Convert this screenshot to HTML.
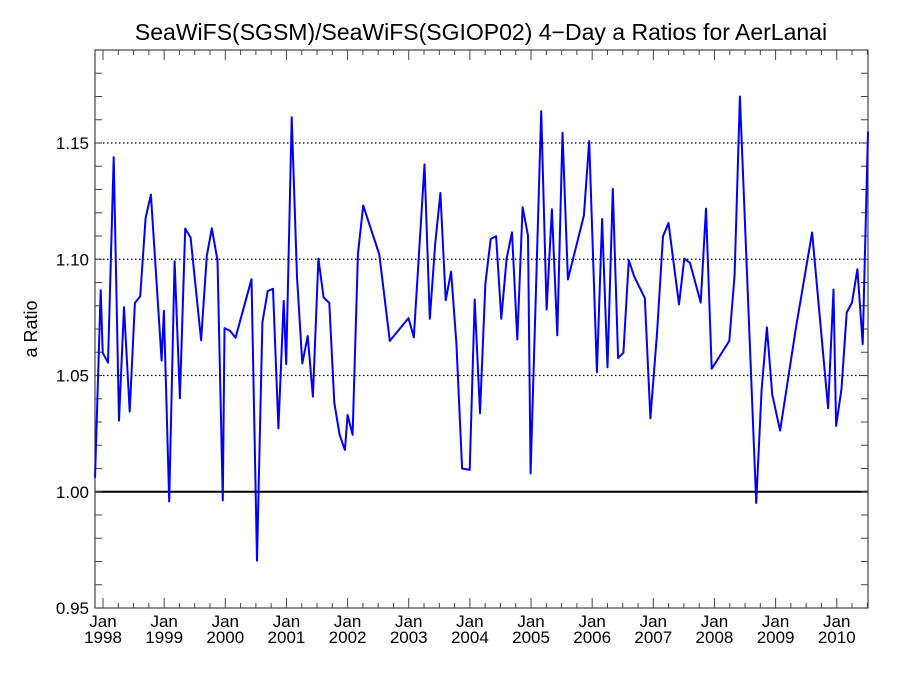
<!DOCTYPE html>
<html><head><meta charset="utf-8"><style>
html,body{margin:0;padding:0;background:#fff;}
svg{display:block;font-family:"Liberation Sans",sans-serif;}
</style></head><body>
<svg id="chart" width="900" height="675" viewBox="0 0 900 675">
<text x="481" y="40" font-size="23" text-anchor="middle">SeaWiFS(SGSM)/SeaWiFS(SGIOP02) 4−Day a Ratios for AerLanai</text>
<text transform="translate(37,329) rotate(-90)" font-size="18" text-anchor="middle">a Ratio</text>
<g id="grid"></g>
<g id="axes"></g>
<g id="series"></g>
</svg>
<script>
const years = [1997.869,1997.962,1997.995,1998.082,1998.175,1998.261,1998.343,1998.436,1998.522,1998.609,1998.697,1998.784,1998.958,1998.996,1999.082,1999.171,1999.257,1999.344,1999.432,1999.605,1999.698,1999.780,1999.873,1999.959,1999.987,2000.078,2000.167,2000.428,2000.519,2000.607,2000.694,2000.780,2000.869,2000.955,2000.996,2001.086,2001.172,2001.260,2001.347,2001.433,2001.522,2001.608,2001.701,2001.783,2001.869,2001.956,2002.000,2002.082,2002.168,2002.256,2002.518,2002.691,2002.996,2003.082,2003.257,2003.344,2003.432,2003.518,2003.605,2003.693,2003.780,2003.873,2003.997,2004.079,2004.166,2004.253,2004.340,2004.428,2004.514,2004.601,2004.689,2004.776,2004.862,2004.950,2004.993,2005.167,2005.254,2005.342,2005.429,2005.515,2005.603,2005.865,2005.951,2006.077,2006.163,2006.250,2006.338,2006.424,2006.511,2006.599,2006.686,2006.861,2006.952,2007.061,2007.159,2007.249,2007.420,2007.507,2007.600,2007.775,2007.861,2007.954,2008.242,2008.330,2008.416,2008.683,2008.771,2008.857,2008.944,2009.074,2009.336,2009.597,2009.858,2009.946,2009.989,2010.077,2010.163,2010.250,2010.338,2010.424,2010.511];
const ratios = [1.006,1.0867,1.0598,1.0555,1.1439,1.0306,1.0794,1.0345,1.0812,1.0841,1.1177,1.1278,1.0564,1.0778,0.9958,1.0991,1.0402,1.1132,1.1093,1.0652,1.1014,1.1133,1.0996,0.9963,1.0704,1.0692,1.0662,1.0914,0.9704,1.0728,1.0863,1.0873,1.0273,1.0821,1.0549,1.1611,1.0924,1.0552,1.0670,1.0409,1.1003,1.0836,1.0812,1.0383,1.0245,1.0180,1.0330,1.0245,1.1021,1.1231,1.1021,1.0649,1.0747,1.0664,1.1408,1.0744,1.1067,1.1285,1.0824,1.0947,1.0638,1.0100,1.0094,1.0827,1.0338,1.0896,1.1087,1.1099,1.0744,1.1003,1.1116,1.0655,1.1224,1.1102,1.0079,1.1637,1.0784,1.1215,1.0673,1.1544,1.0913,1.1188,1.1508,1.0514,1.1173,1.0535,1.1302,1.0575,1.0598,1.0996,1.0927,1.0833,1.0316,1.0681,1.1099,1.1156,1.0806,1.1003,1.0984,1.0814,1.1218,1.0529,1.0649,1.0933,1.1700,0.9952,1.0438,1.0707,1.0419,1.0263,1.0712,1.1115,1.0359,1.0870,1.0283,1.0443,1.0771,1.0814,1.0957,1.0635,1.1549];
const yTicks = [0.95,1.00,1.05,1.10,1.15];
const yTickLabels = ["0.95","1.00","1.05","1.10","1.15"];
const gridValues = [1.05,1.10,1.15];
const refValue = 1.00;
const xYears = [1998,1999,2000,2001,2002,2003,2004,2005,2006,2007,2008,2009,2010];

const L=95,R=868,T=50,B=608;
const X0=1997.869,X1=2010.511,Y0=0.95,Y1=1.19;
const sx=v=>L+(v-X0)/(X1-X0)*(R-L);
const sy=v=>B-(v-Y0)/(Y1-Y0)*(B-T);
const NS="http://www.w3.org/2000/svg";
function mk(tag,attrs,parent){const e=document.createElementNS(NS,tag);for(const k in attrs)e.setAttribute(k,attrs[k]);parent.appendChild(e);return e;}
const grid=document.getElementById('grid'),axes=document.getElementById('axes'),series=document.getElementById('series');

gridValues.forEach(v=>{
  const l=mk('line',{x1:L,x2:R,y1:sy(v),y2:sy(v),stroke:'#000','stroke-width':1.3,'stroke-dasharray':'1.5,2.5'},grid);
  
  
});
const ref=mk('line',{x1:L,x2:R,y1:sy(refValue),y2:sy(refValue),stroke:'#000','stroke-width':2},grid);



// frame
const fr=mk('rect',{x:L,y:T,width:R-L,height:B-T,fill:'none',stroke:'#444','stroke-width':1.2},axes);



// y minor ticks
for(let i=0;i<=24;i++){const v=Y0+i*0.01;const y=sy(v);
  mk('line',{x1:L,x2:L+7,y1:y,y2:y,stroke:'#444'},axes);
  mk('line',{x1:R,x2:R-7,y1:y,y2:y,stroke:'#444'},axes);}
yTicks.forEach((v,i)=>{
  const t=mk('text',{x:L-6,y:sy(v)+6,'font-size':17,'text-anchor':'end'},axes);
  t.textContent=yTickLabels[i];
  
  
});
// x ticks
for(let q=Math.ceil(X0*4);q<=Math.floor(X1*4);q++){const v=q/4;const x=sx(v);const major=(q%4===0);const len=major?10:5;
  mk('line',{x1:x,x2:x,y1:B,y2:B-len,stroke:'#444'},axes);
  mk('line',{x1:x,x2:x,y1:T,y2:T+len,stroke:'#444'},axes);}
xYears.forEach(yv=>{
  const x=sx(yv);
  const t1=mk('text',{x:x,y:627,'font-size':17,'text-anchor':'middle'},axes);
  t1.textContent='Jan';
  
  
  const t2=mk('text',{x:x,y:643,'font-size':17,'text-anchor':'middle'},axes);
  t2.textContent=String(yv);
  
  
});
// series
const pts=years.map((y,i)=>sx(y).toFixed(1)+','+sy(ratios[i]).toFixed(1)).join(' ');
const pl=mk('polyline',{points:pts,fill:'none',stroke:'#0000ff','stroke-width':2,'stroke-linejoin':'round'},series);


</script>
</body></html>
